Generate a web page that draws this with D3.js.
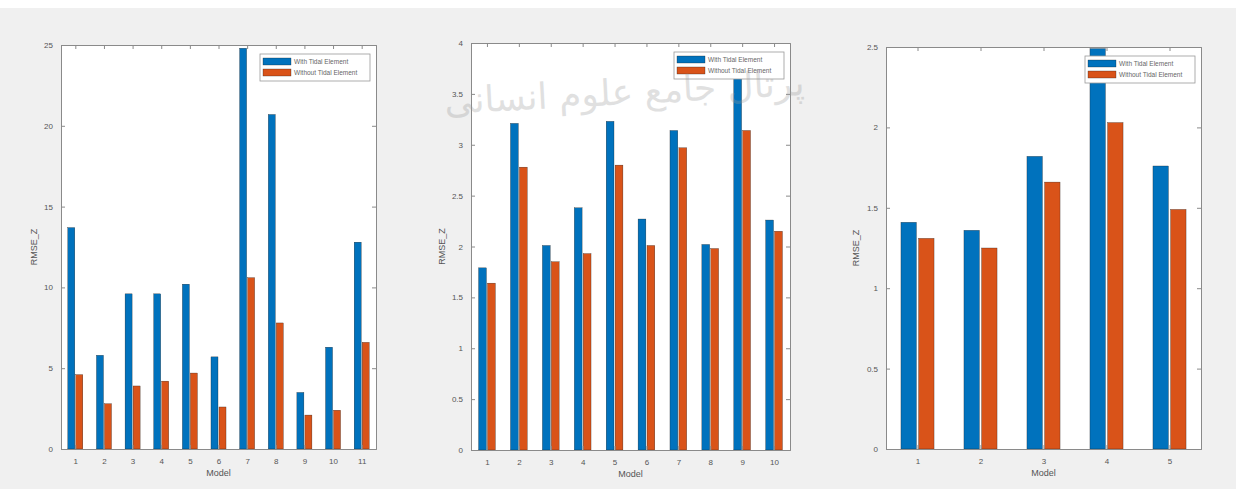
<!DOCTYPE html>
<html>
<head>
<meta charset="utf-8">
<script src="https://cdn.jsdelivr.net/npm/d3@7"></script>
<style>
  html, body { margin: 0; padding: 0; background: #ffffff; }
  svg { display: block; font-family: "Liberation Sans", Arial, sans-serif; }
</style>
</head>
<body>
<svg id="chart" width="1236" height="489"></svg>
<script>
// RMSE_Z per model, with and without the tidal element, for three test cases
const seriesNames = ["With Tidal Element", "Without Tidal Element"];

const modelsA = [1, 2, 3, 4, 5, 6, 7, 8, 9, 10, 11];
const withA    = [13.7, 5.8, 9.6, 9.6, 10.2, 5.7, 24.8, 20.7, 3.5, 6.3, 12.8];
const withoutA = [4.6, 2.8, 3.9, 4.2, 4.7, 2.6, 10.6, 7.8, 2.1, 2.4, 6.6];
const ticksA   = [0, 5, 10, 15, 20, 25];

const modelsB = [1, 2, 3, 4, 5, 6, 7, 8, 9, 10];
const withB    = [1.79, 3.21, 2.01, 2.38, 3.23, 2.27, 3.14, 2.02, 3.65, 2.26];
const withoutB = [1.64, 2.78, 1.85, 1.93, 2.80, 2.01, 2.97, 1.98, 3.14, 2.15];
const ticksB   = [0, 0.5, 1, 1.5, 2, 2.5, 3, 3.5, 4];

const modelsC = [1, 2, 3, 4, 5];
const withC    = [1.41, 1.36, 1.82, 2.49, 1.76];
const withoutC = [1.31, 1.25, 1.66, 2.03, 1.49];
const ticksC   = [0, 0.5, 1, 1.5, 2, 2.5];

const colors = ["#0072BD", "#D95319"];

const svg = d3.select("#chart");

// page background: white strip at the top, light grey figure area below
svg.append("rect").attr("x", 0).attr("y", 0).attr("width", 1236).attr("height", 489).attr("fill", "#ffffff");
svg.append("rect").attr("x", 0).attr("y", 8).attr("width", 1236).attr("height", 481).attr("fill", "#f0f0f0");

const panels = [
  { models: modelsA, a: withA, b: withoutA, ticks: ticksA, box: { l: 61, r: 376, t: 45, b: 449 }, ylabX: 37 },
  { models: modelsB, a: withB, b: withoutB, ticks: ticksB, box: { l: 471, r: 790, t: 43, b: 450 }, ylabX: 445 },
  { models: modelsC, a: withC, b: withoutC, ticks: ticksC, box: { l: 886, r: 1201, t: 47, b: 449 }, ylabX: 859 }
];

panels.forEach(p => {
  const { l, r, t, b } = p.box;
  const n = p.models.length;
  const x = d3.scaleLinear().domain([0.5, n + 0.5]).range([l, r]);
  const yMax = p.ticks[p.ticks.length - 1];
  const y = d3.scaleLinear().domain([0, yMax]).range([b, t]);
  const g = svg.append("g");

  // white axes background
  g.append("rect").attr("x", l).attr("y", t).attr("width", r - l).attr("height", b - t).attr("fill", "#ffffff");

  // grouped bars
  const barW = 0.245;
  const offs = [-0.14, 0.14];
  [p.a, p.b].forEach((vals, si) => {
    g.append("g").selectAll("rect").data(vals).join("rect")
      .attr("x", (d, i) => x(p.models[i] + offs[si] - barW / 2))
      .attr("width", x(barW) - x(0))
      .attr("y", d => y(Math.min(d, yMax)))
      .attr("height", d => y(0) - y(Math.min(d, yMax)))
      .attr("fill", colors[si])
      .attr("stroke", "#1a1a1a").attr("stroke-width", 0.3);
  });

  // axes with inward ticks on all four sides (box on)
  const fmt = d => String(d);
  const axL = g.append("g").attr("transform", `translate(${l},0)`)
    .call(d3.axisLeft(y).tickValues(p.ticks).tickSize(-4).tickPadding(8).tickFormat(fmt));
  const axR = g.append("g").attr("transform", `translate(${r},0)`)
    .call(d3.axisRight(y).tickValues(p.ticks).tickSize(-4).tickFormat(""));
  const axB = g.append("g").attr("transform", `translate(0,${b})`)
    .call(d3.axisBottom(x).tickValues(p.models).tickSize(-4).tickPadding(9).tickFormat(d3.format("d")));
  const axT = g.append("g").attr("transform", `translate(0,${t})`)
    .call(d3.axisTop(x).tickValues(p.models).tickSize(-4).tickFormat(""));
  [axL, axR, axB, axT].forEach(ax => {
    ax.select(".domain").attr("stroke", "#8a8a8a").attr("stroke-width", 1);
    ax.selectAll(".tick line").attr("stroke", "#8a8a8a");
    ax.selectAll("text").attr("fill", "#555").style("font-size", "8px");
  });

  // axis titles
  g.append("text").attr("x", (l + r) / 2).attr("y", b + 27)
    .attr("text-anchor", "middle").attr("fill", "#555").style("font-size", "9px").text("Model");
  g.append("text").attr("transform", `translate(${p.ylabX},${(t + b) / 2}) rotate(-90)`)
    .attr("text-anchor", "middle").attr("fill", "#555").style("font-size", "9px").text("RMSE_Z");

  // legend, top right inside the axes
  const lw = 110, lh = 27;
  const lx = r - 6 - lw, ly = t + 9;
  const lg = g.append("g").attr("transform", `translate(${lx},${ly})`);
  lg.append("rect").attr("width", lw).attr("height", lh).attr("fill", "#ffffff")
    .attr("stroke", "#9a9a9a").attr("stroke-width", 0.8);
  seriesNames.forEach((name, i) => {
    lg.append("rect").attr("x", 3).attr("y", 4 + i * 11).attr("width", 28).attr("height", 7)
      .attr("fill", colors[i]).attr("stroke", "#1a1a1a").attr("stroke-width", 0.3);
    lg.append("text").attr("x", 34).attr("y", 10 + i * 11).attr("fill", "#666")
      .style("font-size", "6.5px").text(name);
  });
});

// faint calligraphic watermark across the middle panel
svg.append("text")
  .attr("transform", "translate(805,95) rotate(-3)")
  .attr("text-anchor", "start").attr("direction", "rtl")
  .attr("fill", "#9a9a9a").attr("opacity", 0.3)
  .style("font-family", "'DejaVu Sans', sans-serif").style("font-size", "36px")
  .text("پرتال جامع علوم انسانی");
</script>
</body>
</html>
